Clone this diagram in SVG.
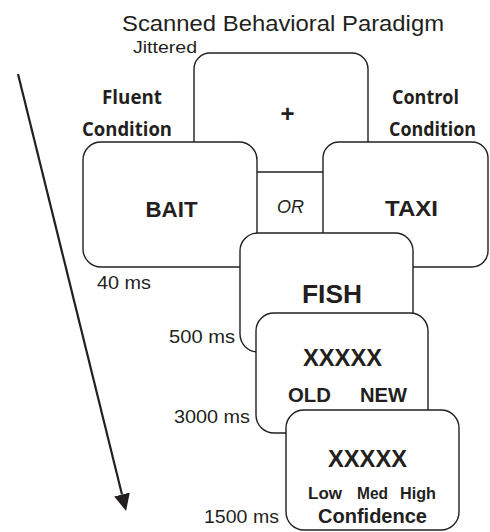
<svg xmlns="http://www.w3.org/2000/svg" width="490" height="532" viewBox="0 0 490 532">
  <style>
    .box { fill: #ffffff; stroke: #231f20; stroke-width: 1.4; }
    .sans { font-family: "Liberation Sans", Arial, sans-serif; fill: #231f20; }
    .bold { font-family: "Liberation Sans", Arial, sans-serif; font-weight: bold; fill: #231f20; }
    .cal { font-family: "Open Sans", "Noto Sans", sans-serif; font-weight: bold; fill: #231f20; font-size: 19.5px; }
    .mid { text-anchor: middle; }
  </style>
  <defs>
    <marker id="arrowhead" markerUnits="userSpaceOnUse" viewBox="0 0 17 16" refX="0" refY="8" markerWidth="17" markerHeight="16" orient="auto">
      <path d="M0,0 L17,8 L0,16 z" fill="#231f20"/>
    </marker>
  </defs>
  <rect width="490" height="532" fill="#ffffff"/>

  <text class="sans" x="122" y="31" font-size="22.5" textLength="322" lengthAdjust="spacingAndGlyphs">Scanned Behavioral Paradigm</text>

  <g id="labels">
    <text class="sans" x="133" y="53" font-size="16" textLength="64" lengthAdjust="spacingAndGlyphs">Jittered</text>
    <text class="cal" x="102" y="104" textLength="60" lengthAdjust="spacingAndGlyphs">Fluent</text>
    <text class="cal" x="82" y="136" textLength="90" lengthAdjust="spacingAndGlyphs">Condition</text>
    <text class="cal" x="392" y="104" textLength="67" lengthAdjust="spacingAndGlyphs">Control</text>
    <text class="cal" x="389" y="136" textLength="87" lengthAdjust="spacingAndGlyphs">Condition</text>
    <text class="sans" x="97" y="289" font-size="18.5" textLength="54" lengthAdjust="spacingAndGlyphs">40 ms</text>
    <text class="sans" x="169" y="343" font-size="18.5" textLength="66" lengthAdjust="spacingAndGlyphs">500 ms</text>
    <text class="sans" x="174" y="423" font-size="18.5" textLength="76" lengthAdjust="spacingAndGlyphs">3000 ms</text>
    <text class="sans" x="204" y="523" font-size="18.5" textLength="75" lengthAdjust="spacingAndGlyphs">1500 ms</text>
  </g>

  <g id="fixation">
    <rect class="box" x="194" y="53" width="174" height="119" rx="16"/>
    <text class="sans mid" x="287.5" y="122" font-size="24" font-weight="bold">+</text>
  </g>

  <g id="or-label">
    <text class="sans mid" x="290.5" y="213" font-size="17.5" font-style="italic" textLength="27" lengthAdjust="spacingAndGlyphs">OR</text>
  </g>

  <g id="bait">
    <rect class="box" x="83" y="142" width="174" height="125" rx="18"/>
    <text class="bold mid" x="171.5" y="217" font-size="22" textLength="52" lengthAdjust="spacingAndGlyphs">BAIT</text>
  </g>

  <g id="taxi">
    <rect class="box" x="323" y="142" width="165" height="125" rx="16"/>
    <text class="bold mid" x="411.5" y="216" font-size="22" textLength="53" lengthAdjust="spacingAndGlyphs">TAXI</text>
  </g>

  <g id="fish">
    <rect class="box" x="240" y="233" width="173" height="119" rx="18"/>
    <text class="bold mid" x="332" y="303" font-size="26" textLength="60" lengthAdjust="spacingAndGlyphs">FISH</text>
  </g>

  <g id="old-new">
    <rect class="box" x="256" y="313" width="172" height="120" rx="18"/>
    <text class="bold mid" x="342.5" y="366" font-size="23" textLength="79" lengthAdjust="spacingAndGlyphs">XXXXX</text>
    <text class="bold" x="288" y="402" font-size="19.5" textLength="43" lengthAdjust="spacingAndGlyphs">OLD</text>
    <text class="bold" x="360" y="402" font-size="19.5" textLength="47" lengthAdjust="spacingAndGlyphs">NEW</text>
  </g>

  <g id="confidence">
    <rect class="box" x="286" y="410" width="173" height="120" rx="18"/>
    <text class="bold mid" x="367.5" y="467" font-size="23" textLength="79" lengthAdjust="spacingAndGlyphs">XXXXX</text>
    <text class="bold" x="308" y="499" font-size="16" textLength="34" lengthAdjust="spacingAndGlyphs">Low</text>
    <text class="bold" x="357" y="499" font-size="16" textLength="31" lengthAdjust="spacingAndGlyphs">Med</text>
    <text class="bold" x="400" y="499" font-size="16" textLength="36" lengthAdjust="spacingAndGlyphs">High</text>
    <text class="bold" x="318" y="523" font-size="19.5" textLength="109" lengthAdjust="spacingAndGlyphs">Confidence</text>
  </g>

  <g id="connectors">
    <line x1="18" y1="74" x2="122" y2="494.5" stroke="#231f20" stroke-width="2.2" marker-end="url(#arrowhead)"/>
  </g>
</svg>
